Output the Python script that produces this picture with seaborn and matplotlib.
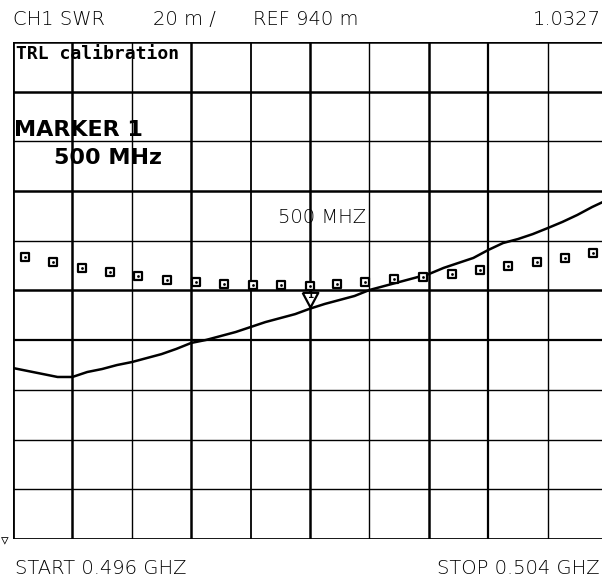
import matplotlib
matplotlib.use("Agg")
import matplotlib.pyplot as plt
import numpy as np
import pandas as pd
import seaborn as sns

# ---- data -------------------------------------------------------------
trace_freq_ghz = [0.4960, 0.4962, 0.4964, 0.4966, 0.4968, 0.4970, 0.4972, 0.4974,
                  0.4976, 0.4978, 0.4980, 0.4982, 0.4984, 0.4986, 0.4988, 0.4990,
                  0.4992, 0.4994, 0.4996, 0.4998, 0.5000, 0.5002, 0.5004, 0.5006,
                  0.5008, 0.5010, 0.5012, 0.5014, 0.5016, 0.5018, 0.5020, 0.5022,
                  0.5024, 0.5026, 0.5028, 0.5030, 0.5032, 0.5034, 0.5036, 0.5038,
                  0.5040]
trace_swr = [1.0088, 1.0076, 1.0064, 1.0052, 1.0052, 1.0072, 1.0084, 1.0100,
             1.0112, 1.0128, 1.0144, 1.0165, 1.0189, 1.0201, 1.0217, 1.0233,
             1.0253, 1.0273, 1.0289, 1.0305, 1.0327, 1.0346, 1.0362, 1.0378,
             1.0402, 1.0418, 1.0434, 1.0450, 1.0466, 1.0491, 1.0511, 1.0531,
             1.0563, 1.0591, 1.0607, 1.0627, 1.0651, 1.0676, 1.0704, 1.0736,
             1.0764]

memory_freq_ghz = [0.49616, 0.49654, 0.49693, 0.49731, 0.49768, 0.49807, 0.49846,
                   0.49884, 0.49923, 0.49961, 0.50000, 0.50036, 0.50074, 0.50113,
                   0.50152, 0.50191, 0.50229, 0.50267, 0.50306, 0.50343, 0.50381]
memory_swr = [1.0535, 1.0515, 1.0491, 1.0474, 1.0458, 1.0442, 1.0434, 1.0426,
              1.0422, 1.0422, 1.0418, 1.0426, 1.0434, 1.0446, 1.0454, 1.0466,
              1.0482, 1.0499, 1.0515, 1.0531, 1.0551]

marker_freq_ghz = 0.500
marker_swr = 1.0327

start_ghz, stop_ghz = 0.496, 0.504
ref_value, per_div = 0.940, 0.020
n_div = 10

header_texts = ["CH1 SWR", "20 m /", "REF 940 m", "1.0327"]
footer_texts = ["START 0.496 GHZ", "STOP 0.504 GHZ"]
screen_texts = ["TRL calibration", "MARKER 1", "500 MHz"]
marker_label = "500 MHZ"

# ---- figure -----------------------------------------------------------
sns.set_style("white")
plt.rcParams["font.family"] = ["DejaVu Sans"]
plt.rcParams["text.color"] = "black"

W, H = 602, 583
fig = plt.figure(figsize=(W / 100, H / 100), dpi=100)
fig.patch.set_facecolor("white")

def px(x, y):
    return x / W, 1 - y / H

left, top, right, bottom = 13, 42, 607, 539
ax = fig.add_axes([left / W, 1 - bottom / H, (right - left) / W, (bottom - top) / H])
ax.set_facecolor("white")

ax.set_xlim(start_ghz, stop_ghz)
ax.set_ylim(ref_value, ref_value + n_div * per_div)

# graticule
x_div = np.linspace(start_ghz, stop_ghz, n_div + 1)
y_div = np.linspace(ref_value, ref_value + n_div * per_div, n_div + 1)
vw = [2.0, 1.8, 1.0, 1.8, 1.3, 1.8, 1.0, 1.8, 1.6, 1.0, 1.0]
hw = [2.0, 1.0, 1.0, 1.0, 1.6, 1.8, 1.0, 1.8, 1.0, 1.8, 1.8]
for xv, w in zip(x_div, vw):
    ax.axvline(xv, color="black", lw=w, zorder=1)
for yv, w in zip(y_div, hw):
    ax.axhline(yv, color="black", lw=w, zorder=1)
for s in ax.spines.values():
    s.set_visible(False)
ax.set_xticks([])
ax.set_yticks([])

trace_df = pd.DataFrame({"freq": trace_freq_ghz, "swr": trace_swr})
mem_df = pd.DataFrame({"freq": memory_freq_ghz, "swr": memory_swr})

sns.lineplot(data=trace_df, x="freq", y="swr", ax=ax, color="black", lw=1.8,
             zorder=3, legend=False)
sns.scatterplot(data=mem_df, x="freq", y="swr", ax=ax, marker="s", s=30,
                facecolor="white", edgecolor="black", linewidth=1.6, zorder=4,
                legend=False)
sns.scatterplot(data=mem_df, x="freq", y="swr", ax=ax, marker="o", s=4,
                color="black", linewidth=0, zorder=5, legend=False)
ax.set_xlabel("")
ax.set_ylabel("")

# marker triangle sitting on the trace
tri = [(-8, 17), (8, 17), (0, 2), (-8, 17)]
ax.plot([marker_freq_ghz], [marker_swr], marker=tri, markersize=24,
        markerfacecolor="white", markeredgecolor="black", markeredgewidth=1.6,
        linestyle="none", zorder=6)
ax.annotate("1", xy=(marker_freq_ghz, marker_swr), xytext=(0, 6),
            textcoords="offset points", ha="center", va="bottom",
            fontsize=6.5, fontweight="bold", color="black", zorder=7)
fig.text(*px(366, 223), marker_label, ha="right", va="baseline", fontsize=14,
         fontweight="light", color="black")

# reference pointer at lower left
ax.annotate("\u25bf", xy=(start_ghz, ref_value), xytext=(-6, -1),
            textcoords="offset points", ha="center", va="center",
            fontsize=11, fontweight="bold", color="black", annotation_clip=False)

# header / footer
hdr_pos = [(13, "left"), (153, "left"), (253, "left"), (601, "right")]
for t, (x, ha) in zip(header_texts, hdr_pos):
    fig.text(*px(x, 25), t, ha=ha, va="baseline", fontsize=14,
             fontweight="light", color="black")
fig.text(*px(15, 574), footer_texts[0], ha="left", va="baseline", fontsize=14,
         fontweight="light", color="black")
fig.text(*px(600, 574), footer_texts[1], ha="right", va="baseline", fontsize=14,
         fontweight="light", color="black")

# on-screen annotations (bitmap-like bold font)
fig.text(*px(16, 59), screen_texts[0], ha="left", va="baseline", fontsize=13,
         fontweight="bold", family="DejaVu Sans Mono", color="black")
fig.text(*px(14, 136), screen_texts[1], ha="left", va="baseline", fontsize=16,
         fontweight="bold", family="DejaVu Sans", color="black")
fig.text(*px(54, 164), screen_texts[2], ha="left", va="baseline", fontsize=16,
         fontweight="bold", family="DejaVu Sans", color="black")

fig.savefig("out.png", dpi=100, facecolor="white")
